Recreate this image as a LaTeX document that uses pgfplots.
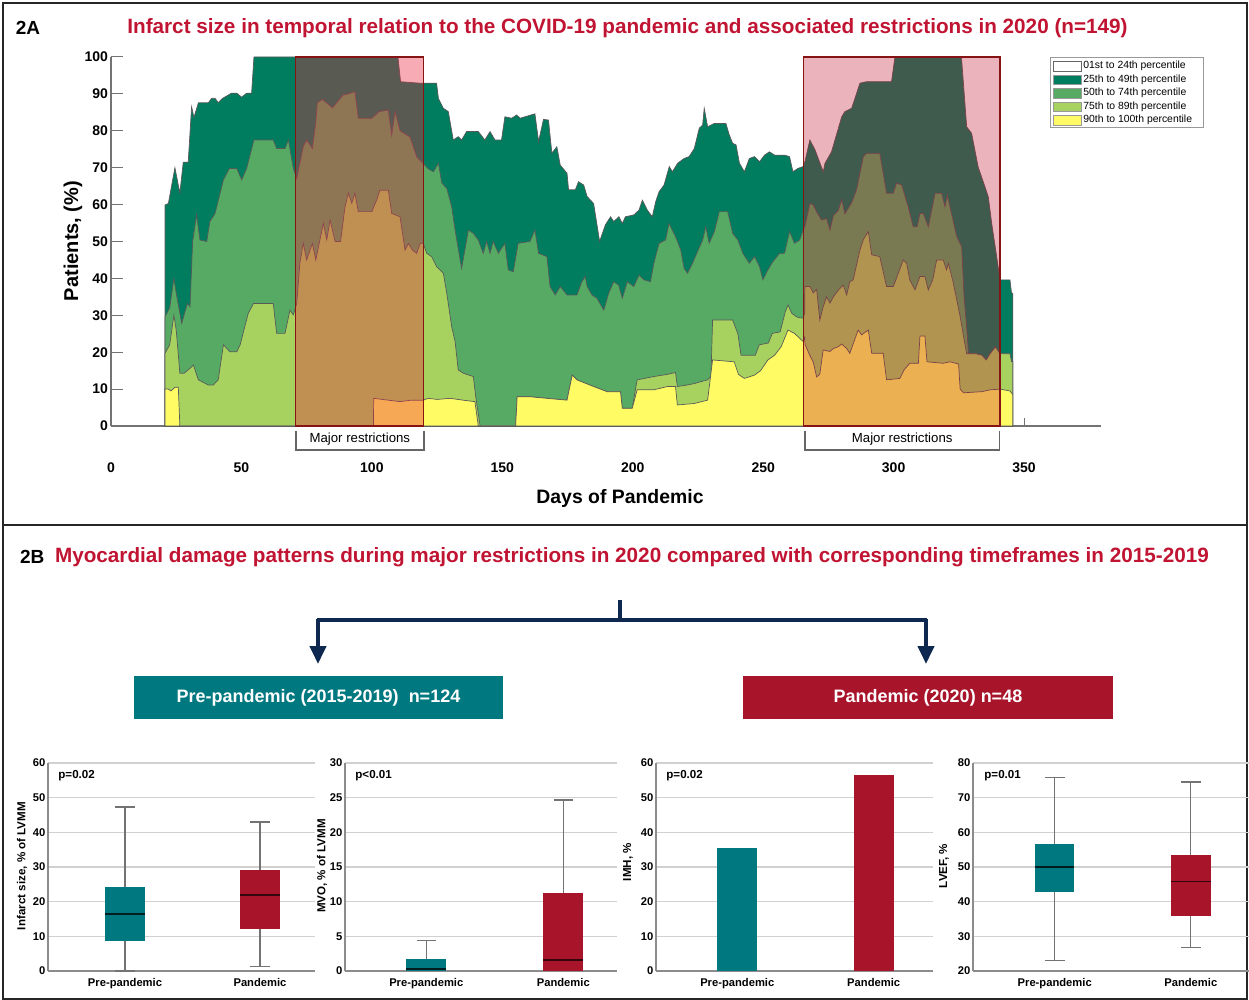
\documentclass[border=0pt]{standalone}
\usepackage{fontspec}
\setmainfont{Liberation Sans}
\usepackage{pgfplots}
\pgfplotsset{compat=1.18}
\usetikzlibrary{arrows.meta}
\definecolor{dg}{RGB}{0,125,95}
\definecolor{mg}{RGB}{86,170,100}
\definecolor{lg}{RGB}{167,210,96}
\definecolor{yl}{RGB}{255,251,100}
\definecolor{ovA}{RGB}{235,35,60}
\definecolor{ovB}{RGB}{195,20,45}
\definecolor{rb}{RGB}{135,20,20}
\definecolor{ttl}{RGB}{192,20,50}
\definecolor{teal2}{RGB}{0,120,128}
\definecolor{red2}{RGB}{168,20,42}
\definecolor{navy}{RGB}{15,40,80}
\pgfplotsset{
  smallax/.style={scale only axis, anchor=south west, clip=false,
    axis x line*=bottom, axis y line*=left,
    axis line style={-, black!45, line width=0.6pt},
    ymajorgrids, grid style={black!18, line width=0.6pt},
    major tick length=0pt,
    tick label style={font=\fontsize{5.6}{6}\selectfont\bfseries},
    yticklabel style={xshift=2.2pt},
    /pgf/number format/assume math mode=true,
    xtick={1,2}, xticklabels={Pre-pandemic,Pandemic}},
  whisk/.style={black!55, line width=0.6pt, unbounded coords=jump, forget plot},
}
\begin{document}
\begin{tikzpicture}
\begin{scope}[x=0.5pt,y=-0.5pt]
\fill[white] (0,0) rectangle (1249,1000);
\draw[black!85, line width=0.8pt] (3,3) rectangle (1247,999);
\draw[black!85, line width=0.8pt] (3,525) -- (1247,525);
\node[font=\fontsize{9.5}{11}\selectfont\bfseries] at (28,28) {2A};
\node[font=\fontsize{10.35}{12}\selectfont\bfseries, text=ttl] at (627.5,28) {Infarct size in temporal relation to the COVID-19 pandemic and associated restrictions in 2020 (n=149)};
\node[font=\fontsize{10}{11}\selectfont\bfseries, rotate=90] at (73,241) {Patients, (\%)};
\node[font=\fontsize{9.7}{11}\selectfont\bfseries] at (620,498) {Days of Pandemic};
% legend
\draw[black!40, line width=0.5pt] (1050,58) rectangle (1203,128);
\draw[black!60, fill=white, line width=0.4pt] (1053,61.5) rectangle (1081,71);
\draw[black!40, fill=dg, line width=0.4pt] (1053,75) rectangle (1081,84.5);
\draw[black!40, fill=mg, line width=0.4pt] (1053,88.5) rectangle (1081,98);
\draw[black!40, fill=lg, line width=0.4pt] (1053,102) rectangle (1081,111.5);
\draw[black!40, fill=yl, line width=0.4pt] (1053,115.5) rectangle (1081,125);
\begin{scope}[every node/.style={anchor=west, inner sep=0pt, font=\fontsize{5.2}{6}\selectfont}]
\node at (1083,66.3) {01st to 24th percentile};
\node at (1083,79.8) {25th to 49th percentile};
\node at (1083,93.3) {50th to 74th percentile};
\node at (1083,106.8) {75th to 89th percentile};
\node at (1083,120.3) {90th to 100th percentile};
\end{scope}
% panel 2B header
\node[font=\fontsize{9.5}{11}\selectfont\bfseries, anchor=west] at (13,557) {2B};
\node[font=\fontsize{10.35}{12}\selectfont\bfseries, text=ttl, anchor=west] at (48,557) {Myocardial damage patterns during major restrictions in 2020 compared with corresponding timeframes in 2015-2019};
\draw[navy, line width=2pt] (620,600) -- (620,621);
\draw[navy, line width=2pt] (317,620) -- (927,620);
\draw[navy, line width=2pt, -{Triangle[width=8pt,length=9pt]}] (318,619) -- (318,664);
\draw[navy, line width=2pt, -{Triangle[width=8pt,length=9pt]}] (926,619) -- (926,664);
\fill[teal2] (134,676) rectangle (503,719);
\fill[red2] (743,676) rectangle (1113,719);
\node[text=white, font=\fontsize{9}{10}\selectfont\bfseries] at (318.5,697.5) {Pre-pandemic (2015-2019)\ \ n=124};
\node[text=white, font=\fontsize{9}{10}\selectfont\bfseries] at (928,697.5) {Pandemic (2020) n=48};
% small chart labels
\begin{scope}[every node/.style={font=\fontsize{5.8}{6}\selectfont\bfseries}]
\node[rotate=90] at (22,866) {Infarct size, \% of LVMM};
\node[rotate=90] at (322,866) {MVO, \% of LVMM};
\node[rotate=90] at (628,862) {IMH, \%};
\node[rotate=90] at (944,866) {LVEF, \%};
\node[anchor=west, inner sep=0pt] at (58,776) {p=0.02};
\node[anchor=west, inner sep=0pt] at (355,776) {p<0.01};
\node[anchor=west, inner sep=0pt] at (666,776) {p=0.02};
\node[anchor=west, inner sep=0pt] at (984,776) {p=0.01};
\end{scope}
\end{scope}

% ===== Panel 2A main axis =====
\begin{axis}[at={(55.5pt,-213pt)}, anchor=south west, scale only axis,
  width=495pt, height=184.5pt, xmin=0, xmax=379.5, ymin=0, ymax=100,
  clip=false,
  axis x line*=bottom, axis y line*=left,
  axis line style={-, black!55, line width=0.6pt},
  ytick={0,10,...,100}, xtick={0,50,...,350},
  ytick align=inside, major tick length=6pt,
  y tick style={black!55, line width=0.5pt},
  x tick style={draw=none},
  /pgf/number format/assume math mode=true,
  yticklabel style={font=\fontsize{7}{8}\selectfont\bfseries, xshift=2pt},
  xticklabel style={font=\fontsize{7}{8}\selectfont\bfseries, yshift=-15pt},
]
\addplot[fill=dg, draw=black!65, line width=0.35pt] coordinates {
(20.7,0) (20.7,59.9) (22.0,60.3) (24.5,70.0) (26.4,63.1) (27.7,71.5) (29.6,71.5) (30.9,86.5) (31.8,83.6) (33.5,87.6) (37.3,87.6) (38.6,88.8) (39.9,88.8) (41.1,87.6) (42.8,88.8) (46.2,90.2) (48.2,90.2) (50.1,89.1) (52.0,90.2) (53.9,90.2) (54.8,100) (110.0,100) (111.0,93.3) (118.4,92.9) (124.8,92.9) (125.5,88.8) (127.4,86.1) (129.3,85.2) (131.2,77.5) (133.1,78.4) (134.4,77.5) (136.3,79.8) (140.8,79.8) (143.3,77.5) (145.3,79.8) (147.2,77.5) (149.7,77.5) (151.0,83.8) (153.6,83.4) (155.5,84.3) (156.8,83.4) (162.5,84.6) (163.9,77.1) (165.8,83.1) (167.7,82.9) (169.0,73.9) (170.9,75.7) (172.2,70.7) (174.8,68.5) (175.4,64.0) (178.0,64.0) (179.2,66.2) (181.2,65.3) (182.5,62.2) (185.0,60.3) (187.3,50.0) (189.5,54.5) (191.5,56.7) (192.7,55.4) (194.7,56.7) (196.0,54.9) (197.2,56.7) (200.4,57.2) (202.4,58.5) (203.7,61.2) (205.6,58.5) (207.5,56.7) (208.8,60.8) (210.1,63.5) (212.0,65.3) (214.0,70.3) (215.2,68.9) (217.2,71.2) (219.7,72.5) (221.6,73.0) (223.6,75.2) (225.5,80.7) (226.8,81.6) (227.4,86.1) (228.7,81.1) (231.3,82.0) (235.7,82.0) (237.0,78.9) (238.3,76.6) (239.6,76.2) (240.9,71.2) (242.8,68.9) (244.7,72.5) (246.7,73.0) (248.6,71.6) (250.5,73.4) (252.4,74.3) (254.4,73.4) (258.2,73.4) (260.1,73.0) (261.4,68.9) (263.3,69.8) (265.3,70.3) (266.0,71.6) (267.9,77.5) (269.9,74.8) (273.0,68.9) (273.7,71.2) (276.2,74.3) (280.1,83.8) (281.3,85.2) (283.9,86.1) (287.1,92.9) (289.6,93.3) (299.2,93.3) (300.5,100) (326.0,100) (328.0,81.1) (329.9,79.3) (332.4,70.2) (334.4,66.1) (336.3,62.1) (337.6,54.9) (339.5,45.9) (340.8,39.6) (344.6,39.6) (345.2,36.0) (345.7,36.0) (345.7,0)
} -- cycle;
\addplot[fill=mg, draw=black!65, line width=0.35pt] coordinates {
(20.7,0) (20.7,29.6) (22.5,32.0) (24.1,40.0) (25.0,36.0) (27.1,27.8) (29.3,33.2) (30.3,32.3) (31.3,50.0) (32.8,57.2) (34.1,50.4) (36.7,50.0) (37.9,55.4) (39.9,57.6) (43.1,66.7) (45.4,69.8) (48.2,69.8) (50.1,66.7) (52.0,69.8) (54.8,77.5) (62.2,77.5) (63.5,75.2) (66.7,75.2) (68.0,77.5) (69.9,69.8) (71.2,67.0) (73.7,75.7) (75.0,77.5) (77.2,75.2) (78.5,82.2) (79.1,87.6) (81.0,88.5) (83.6,87.0) (84.9,86.2) (86.5,87.6) (89.0,89.7) (91.0,90.0) (93.5,90.6) (94.8,83.4) (100.0,83.4) (102.8,85.2) (106.3,85.6) (107.6,78.8) (108.9,85.2) (110.8,80.0) (114.6,78.3) (117.2,72.9) (119.7,71.1) (121.6,69.7) (123.6,68.9) (125.5,71.2) (126.8,65.8) (128.7,64.4) (130.6,59.4) (131.9,53.1) (134.4,42.7) (137.0,53.1) (138.9,52.2) (140.8,50.4) (142.7,46.8) (144.0,50.0) (145.3,46.8) (146.5,50.0) (148.5,46.8) (151.0,49.5) (152.3,42.3) (154.2,41.8) (156.1,49.5) (160.6,50.0) (162.5,53.1) (163.9,46.8) (167.1,45.9) (168.3,37.8) (170.3,35.5) (172.2,37.8) (174.8,35.5) (178.6,35.5) (180.5,39.1) (181.8,40.5) (182.5,37.8) (184.4,35.5) (186.3,34.6) (188.9,31.4) (190.8,36.0) (192.7,39.1) (194.6,38.2) (196.0,34.6) (197.9,39.1) (200.4,37.8) (202.4,40.9) (204.3,39.6) (206.8,39.1) (208.1,44.1) (210.1,49.5) (212.6,50.4) (213.9,54.9) (216.4,51.3) (218.4,47.7) (219.7,42.7) (221.0,41.4) (222.9,44.1) (224.8,47.2) (226.8,50.4) (228.0,54.0) (229.3,49.5) (231.3,52.7) (233.2,58.1) (236.4,58.1) (238.3,52.2) (240.3,50.4) (242.2,46.8) (244.7,44.1) (246.7,45.9) (248.6,43.2) (249.9,39.6) (251.8,42.3) (253.7,44.5) (256.3,46.8) (258.2,46.8) (260.1,52.7) (262.0,49.5) (264.0,50.4) (265.3,53.1) (266.0,54.0) (267.9,60.3) (269.2,59.9) (270.5,58.0) (272.4,55.8) (274.3,56.2) (275.6,53.1) (276.9,57.0) (278.8,58.4) (280.1,61.3) (281.3,57.5) (283.9,60.5) (285.8,64.0) (287.1,68.5) (288.4,73.0) (289.6,73.9) (294.7,73.9) (297.3,63.1) (299.9,63.1) (301.1,65.8) (303.1,65.3) (305.6,59.4) (307.5,54.0) (309.0,54.0) (310.1,57.6) (311.4,57.6) (313.3,54.0) (315.9,63.1) (318.4,63.1) (319.7,59.4) (320.6,62.6) (321.6,59.4) (324.2,51.3) (326.1,48.6) (327.0,35.0) (328.0,26.9) (328.7,19.6) (331.3,19.6) (333.8,19.2) (335.5,17.9) (337.0,19.6) (339.0,21.4) (340.8,19.6) (344.6,19.6) (345.2,17.5) (345.7,17.5) (345.7,0)
} -- cycle;
\addplot[fill=lg, draw=black!65, line width=0.35pt] coordinates {
(20.7,0) (20.7,19.7) (22.5,22.0) (24.1,30.0) (25.0,26.0) (26.4,14.3) (28.0,14.3) (29.6,15.2) (31.6,16.5) (33.5,12.5) (37.3,11.1) (39.2,11.1) (41.1,12.5) (43.1,22.0) (45.6,20.1) (48.2,20.1) (49.5,22.0) (52.6,30.5) (54.6,33.2) (62.2,33.2) (63.5,25.1) (66.7,25.1) (68.6,31.4) (69.9,30.1) (71.2,33.2) (72.4,44.1) (73.7,49.5) (75.0,45.0) (77.2,49.5) (78.5,45.0) (81.4,54.9) (82.7,50.5) (84.0,55.8) (85.9,50.0) (88.0,50.0) (89.7,59.4) (91.0,63.1) (92.3,60.4) (93.5,63.1) (94.8,58.1) (100.0,58.1) (101.8,61.2) (103.1,63.9) (106.3,63.9) (107.6,57.6) (110.8,56.7) (112.7,47.7) (114.0,49.5) (115.5,47.7) (117.2,46.8) (118.5,49.5) (119.7,49.5) (121.0,46.8) (122.9,45.9) (124.8,43.2) (126.1,42.3) (127.4,41.4) (128.7,36.0) (130.6,26.9) (131.9,22.9) (133.1,15.2) (135.1,14.3) (138.9,13.4) (139.8,8.0) (141.5,0) (155.1,0) (155.7,7.9) (161.0,7.9) (167.1,7.5) (174.8,7.0) (176.8,13.8) (178.6,12.5) (185.0,10.7) (190.2,9.3) (195.3,9.3) (196.0,4.8) (199.8,4.8) (201.0,9.8) (201.7,12.5) (208.1,13.4) (213.3,14.0) (216.4,14.5) (217.1,10.7) (220.0,11.0) (223.6,11.5) (226.0,12.0) (228.7,12.5) (230.0,13.5) (230.6,28.7) (238.3,28.7) (240.3,25.0) (241.5,19.2) (247.0,19.2) (248.5,22.0) (252.0,22.5) (253.5,25.1) (256.5,25.5) (258.5,31.0) (259.5,32.8) (261.0,30.5) (263.0,29.5) (265.3,29.2) (265.9,30.6) (266.0,37.8) (267.9,37.8) (269.2,36.1) (270.5,37.0) (271.7,28.7) (273.0,32.3) (274.3,35.0) (275.6,33.3) (276.9,35.0) (278.8,36.8) (280.7,38.2) (282.0,35.5) (283.2,39.1) (284.5,39.6) (287.1,47.7) (288.4,50.5) (290.3,52.7) (291.6,46.4) (294.7,45.9) (297.3,37.8) (299.9,37.8) (301.8,41.4) (303.7,45.0) (305.0,44.1) (306.2,39.6) (308.2,36.9) (310.1,40.5) (312.0,40.5) (313.3,36.9) (315.0,39.6) (316.5,45.0) (319.0,45.0) (320.3,42.3) (321.0,44.1) (322.9,38.7) (325.5,29.7) (326.8,24.3) (328.0,19.6) (328.7,19.6) (331.3,19.6) (333.8,19.2) (335.5,17.9) (337.0,19.6) (339.0,21.4) (340.8,19.6) (344.6,19.6) (345.2,17.5) (345.7,17.5) (345.7,0)
} -- cycle;
\addplot[fill=yl, draw=black!65, line width=0.35pt] coordinates {
(20.7,0) (20.7,10.0) (22.0,10.0) (23.0,9.5) (24.5,10.5) (25.8,10.5) (26.4,0) (100.6,0) (100.7,7.5) (110.8,6.6) (115.0,7.0) (119.7,7.0) (121.6,7.5) (125.0,7.2) (130.0,7.5) (135.0,7.0) (139.5,6.6) (140.8,0) (155.1,0) (155.7,7.9) (161.0,7.9) (167.1,7.5) (174.8,7.0) (176.8,13.8) (178.6,12.5) (185.0,10.7) (190.2,9.3) (195.3,9.3) (196.0,4.8) (199.8,4.8) (201.7,9.8) (208.1,9.8) (213.3,10.7) (216.4,10.7) (217.1,5.7) (223.6,6.1) (228.7,7.0) (230.6,17.9) (238.9,17.4) (240.5,14.0) (242.8,12.9) (246.7,13.8) (249.0,15.0) (251.8,17.9) (254.4,19.2) (256.9,21.5) (259.5,26.0) (262.0,25.1) (265.3,22.9) (265.9,24.1) (266.0,22.2) (267.9,19.1) (269.2,17.3) (270.5,13.3) (271.7,14.0) (273.0,20.6) (275.6,20.2) (276.9,21.0) (278.8,21.5) (280.1,22.2) (282.0,21.0) (283.2,19.7) (286.4,26.0) (287.7,24.7) (290.3,26.0) (291.6,19.7) (296.0,19.7) (297.3,12.5) (302.4,12.9) (304.0,15.2) (306.2,17.0) (309.5,17.0) (310.1,24.4) (312.0,24.4) (312.8,17.4) (319.0,17.0) (321.6,17.4) (324.9,16.8) (325.5,10.0) (326.8,9.0) (333.8,9.3) (337.0,9.8) (340.8,10.0) (344.6,9.5) (345.7,8.5) (345.7,0)
} -- cycle;
% restriction periods
\addplot[fill=ovA, fill opacity=0.38, draw=rb, line width=0.6pt] coordinates {(70.8,0) (70.8,100) (119.7,100) (119.7,0)} -- cycle;
\addplot[fill=ovB, fill opacity=0.32, draw=rb, line width=0.6pt] coordinates {(265.6,0) (265.6,100) (340.8,100) (340.8,0)} -- cycle;
\draw[black!55, line width=0.5pt] (axis cs:350,0) -- (axis cs:350,2.3);
\draw[black!60, line width=0.6pt] (axis cs:70.9,-1.4) -- (axis cs:70.9,-6.5) -- (axis cs:120,-6.5) -- (axis cs:120,-1.4);
\draw[black!60, line width=0.6pt] (axis cs:266,-1.4) -- (axis cs:266,-6.5) -- (axis cs:340.7,-6.5) -- (axis cs:340.7,-1.4);
\node[font=\fontsize{6.6}{7}\selectfont] at (axis cs:95.4,-3.6) {Major restrictions};
\node[font=\fontsize{6.6}{7}\selectfont] at (axis cs:303.3,-3.6) {Major restrictions};
\end{axis}

% ===== Panel 2B charts =====
\begin{axis}[smallax, at={(24pt,-485.5pt)}, width=133.5pt, height=104pt,
  xmin=0.4296, xmax=2.4074, ymin=0, ymax=60, ytick={0,10,...,60}]
\addplot[fill=teal2, draw=none] coordinates {(0.852,8.65) (1.148,8.65) (1.148,24.2) (0.852,24.2)} -- cycle;
\addplot[fill=red2, draw=none] coordinates {(1.852,12.2) (2.148,12.2) (2.148,29.0) (1.852,29.0)} -- cycle;
\addplot[black!75!teal2, line width=0.9pt] coordinates {(0.852,16.4) (1.148,16.4)};
\addplot[black!70!red2, line width=0.9pt] coordinates {(1.852,21.9) (2.148,21.9)};
\addplot[whisk] coordinates {(1,24.2) (1,47.3) (nan,nan) (0.926,47.3) (1.074,47.3) (nan,nan) (1,8.65) (1,0) (nan,nan) (0.926,0) (1.074,0)};
\addplot[whisk] coordinates {(2,29.0) (2,43.0) (nan,nan) (1.926,43.0) (2.074,43.0) (nan,nan) (2,12.2) (2,1.4) (nan,nan) (1.926,1.4) (2.074,1.4)};
\end{axis}

\begin{axis}[smallax, at={(172.5pt,-485.5pt)}, width=136pt, height=104pt,
  xmin=0.4066, xmax=2.392, ymin=0, ymax=30, ytick={0,5,...,30}]
\addplot[fill=teal2, draw=none] coordinates {(0.854,0) (1.146,0) (1.146,1.72) (0.854,1.72)} -- cycle;
\addplot[fill=red2, draw=none] coordinates {(1.854,0) (2.146,0) (2.146,11.3) (1.854,11.3)} -- cycle;
\addplot[black!75!teal2, line width=0.9pt] coordinates {(0.854,0.34) (1.146,0.34)};
\addplot[black!70!red2, line width=0.9pt] coordinates {(1.854,1.53) (2.146,1.53)};
\addplot[whisk] coordinates {(1,1.72) (1,4.39) (nan,nan) (0.929,4.39) (1.071,4.39)};
\addplot[whisk] coordinates {(2,11.3) (2,24.66) (nan,nan) (1.929,24.66) (2.071,24.66)};
\end{axis}

\begin{axis}[smallax, at={(328pt,-485.5pt)}, width=138.5pt, height=104pt,
  xmin=0.404, xmax=2.435, ymin=0, ymax=60, ytick={0,10,...,60}]
\addplot[fill=teal2, draw=none] coordinates {(0.853,0) (1.147,0) (1.147,35.4) (0.853,35.4)} -- cycle;
\addplot[fill=red2, draw=none] coordinates {(1.853,0) (2.147,0) (2.147,56.5) (1.853,56.5)} -- cycle;
\end{axis}

\begin{axis}[smallax, at={(486.5pt,-485.5pt)}, width=138pt, height=104pt,
  xmin=0.3997, xmax=2.4276, ymin=20, ymax=80, ytick={20,30,...,80}]
\addplot[fill=teal2, draw=none] coordinates {(0.855,42.7) (1.145,42.7) (1.145,56.6) (0.855,56.6)} -- cycle;
\addplot[fill=red2, draw=none] coordinates {(1.855,35.8) (2.145,35.8) (2.145,53.5) (1.855,53.5)} -- cycle;
\addplot[black!75!teal2, line width=0.9pt] coordinates {(0.855,50.1) (1.145,50.1)};
\addplot[black!70!red2, line width=0.9pt] coordinates {(1.855,45.8) (2.145,45.8)};
\addplot[whisk] coordinates {(1,56.6) (1,75.9) (nan,nan) (0.928,75.9) (1.072,75.9) (nan,nan) (1,42.7) (1,23.1) (nan,nan) (0.928,23.1) (1.072,23.1)};
\addplot[whisk] coordinates {(2,53.5) (2,74.5) (nan,nan) (1.928,74.5) (2.072,74.5) (nan,nan) (2,35.8) (2,26.7) (nan,nan) (1.928,26.7) (2.072,26.7)};
\end{axis}
\pgfresetboundingbox
\path[use as bounding box] (0,0) rectangle (624.5pt,-500pt);
\end{tikzpicture}
\end{document}
